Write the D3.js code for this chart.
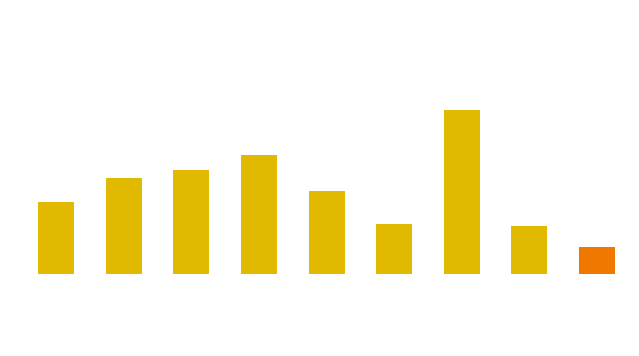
<!DOCTYPE html>
<html>
<head>
<meta charset="utf-8">
<script src="https://cdn.jsdelivr.net/npm/d3@7"></script>
<style>
html,body{margin:0;padding:0;background:#fff;}
svg{display:block;}
</style>
</head>
<body>
<svg id="chart" width="639" height="356"></svg>
<script>
const categories = ["A","B","C","D","E","F","G","H","I"];
const values = [72, 96, 104, 119, 83, 50, 164, 48, 27];
const highlight = ["I"];

const svg = d3.select("#chart");
const x = d3.scaleBand().domain(categories).range([38, 615]).paddingInner(0.4677).paddingOuter(0);
const y = d3.scaleLinear().domain([0, 200]).range([274, 74]);
const bw = Math.round(x.bandwidth());

svg.selectAll("rect.bar")
  .data(categories.map((c,i)=>({c, v: values[i]})))
  .enter().append("rect")
  .attr("class","bar")
  .attr("x", d => Math.round(x(d.c)))
  .attr("width", bw)
  .attr("y", d => Math.round(y(d.v)))
  .attr("height", d => Math.round(y(0)) - Math.round(y(d.v)))
  .attr("fill", d => highlight.includes(d.c) ? "#F07800" : "#E0B900");
</script>
</body>
</html>
